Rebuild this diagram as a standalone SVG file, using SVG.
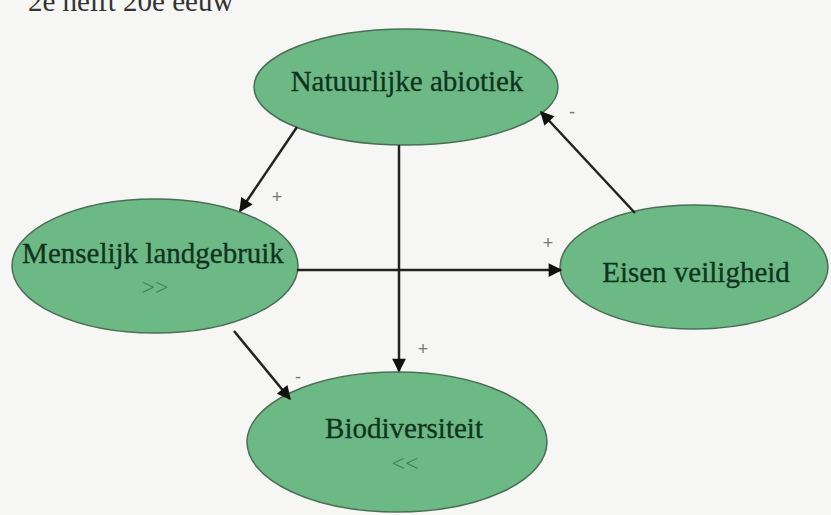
<svg xmlns="http://www.w3.org/2000/svg" width="831" height="515" viewBox="0 0 831 515">
<defs>
<style>
.node ellipse{fill:#6db985;stroke:#4a6e56;stroke-width:1.5}
.lbl{font-family:"Liberation Serif","Times New Roman",serif;font-size:29px;fill:#0f3320;stroke:#0f3320;stroke-width:0.3;text-anchor:middle}
.sym{font-family:"Liberation Serif","Times New Roman",serif;font-size:24px;fill:#3b7f52;text-anchor:middle}
.sign{font-family:"Liberation Sans",Arial,sans-serif;font-size:18px;fill:#777;text-anchor:middle}
.title{font-family:"Liberation Serif","Times New Roman",serif;font-size:29px;fill:#333}
#connectors line{stroke:#222;stroke-width:2.5;marker-end:url(#ah)}
</style>
<marker id="ah" viewBox="0 0 10 10" refX="9" refY="5" markerWidth="6.5" markerHeight="5.5" orient="auto" markerUnits="strokeWidth">
<path d="M0,0 L10,5 L0,10 z" fill="#111"/>
</marker>
</defs>
<rect width="831" height="515" fill="#f6f6f4"/>
<text class="title" x="28" y="11">2e helft 20e eeuw</text>
<g id="natuurlijke-abiotiek" class="node">
<ellipse cx="406" cy="87" rx="152" ry="58"/>
<text class="lbl" x="407" y="91">Natuurlijke abiotiek</text>
</g>
<g id="menselijk-landgebruik" class="node">
<ellipse cx="155" cy="266" rx="143" ry="67"/>
<text class="lbl" x="153" y="263">Menselijk landgebruik</text>
<text class="sym" x="155" y="295">&gt;&gt;</text>
</g>
<g id="eisen-veiligheid" class="node">
<ellipse cx="694" cy="267" rx="134" ry="62"/>
<text class="lbl" x="696" y="282">Eisen veiligheid</text>
</g>
<g id="biodiversiteit" class="node">
<ellipse cx="397" cy="442" rx="150" ry="70"/>
<text class="lbl" x="404" y="438">Biodiversiteit</text>
<text class="sym" x="405" y="471">&lt;&lt;</text>
</g>
<g id="connectors">
<line x1="297" y1="127" x2="240" y2="211"/>
<line x1="399" y1="145" x2="399" y2="371"/>
<line x1="297" y1="270" x2="561" y2="270"/>
<line x1="635" y1="213" x2="541" y2="112"/>
<line x1="234" y1="331" x2="290" y2="399"/>
</g>
<g id="signs">
<text class="sign" x="277" y="203">+</text>
<text class="sign" x="423" y="355">+</text>
<text class="sign" x="548" y="249">+</text>
<text class="sign" x="572" y="118">-</text>
<text class="sign" x="298" y="383">-</text>
</g>
</svg>
